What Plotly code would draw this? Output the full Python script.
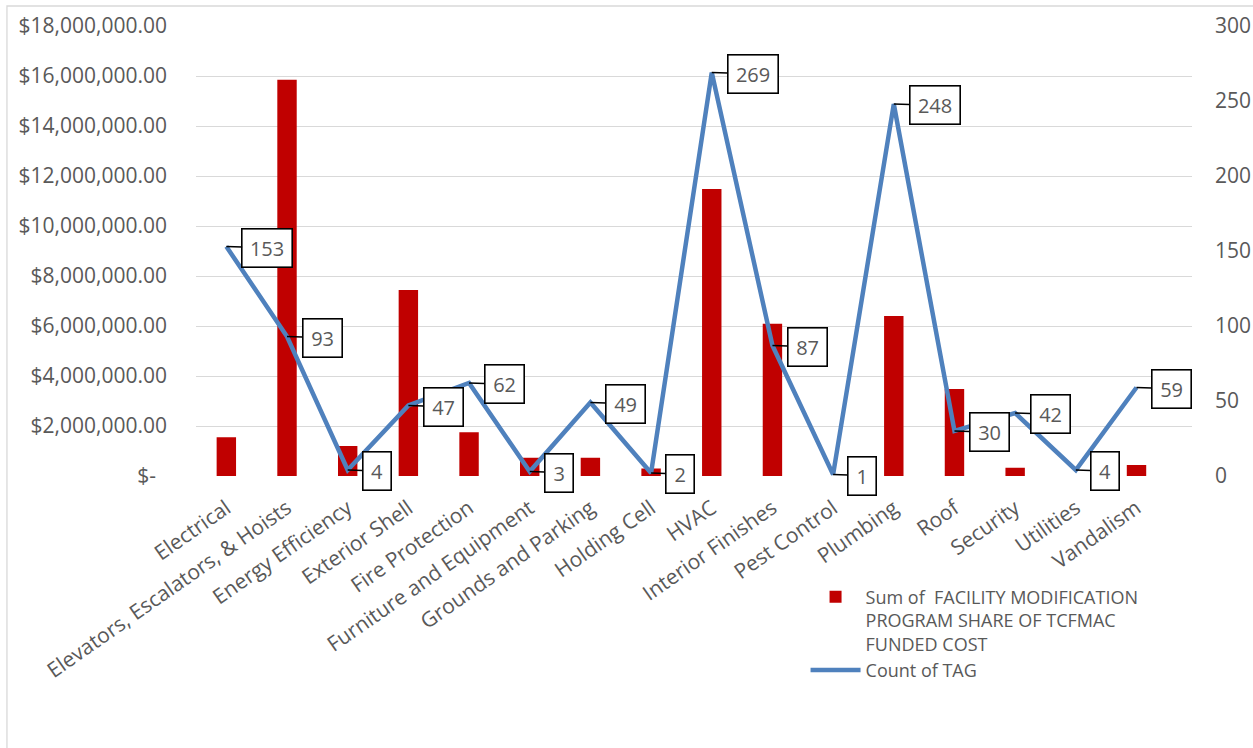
import plotly.graph_objects as go

categories = [
    "Electrical", "Elevators, Escalators, & Hoists", "Energy Efficiency",
    "Exterior Shell", "Fire Protection", "Furniture and Equipment",
    "Grounds and Parking", "Holding Cell", "HVAC", "Interior Finishes",
    "Pest Control", "Plumbing", "Roof", "Security", "Utilities", "Vandalism",
]
funded_cost = [
    1550000, 15850000, 1200000, 7440000, 1750000, 730000, 730000, 300000,
    11480000, 6090000, 0, 6400000, 3480000, 330000, 0, 440000,
]
tag_count = [153, 93, 4, 47, 62, 3, 49, 2, 269, 87, 1, 248, 30, 42, 4, 59]

cost_tickvals = [0, 2e6, 4e6, 6e6, 8e6, 10e6, 12e6, 14e6, 16e6, 18e6]
cost_ticktext = [
    "$-\u00a0\u00a0", "$2,000,000.00", "$4,000,000.00", "$6,000,000.00",
    "$8,000,000.00", "$10,000,000.00", "$12,000,000.00", "$14,000,000.00",
    "$16,000,000.00", "$18,000,000.00",
]
count_tickvals = [0, 50, 100, 150, 200, 250, 300]

bar_name = "Sum of \u00a0FACILITY MODIFICATION<br>PROGRAM SHARE OF TCFMAC<br>FUNDED COST"
line_name = "Count of TAG"

FONT = "Open Sans"
GREY = "#595959"

fig = go.Figure()
fig.add_trace(go.Bar(
    x=categories, y=funded_cost, name=bar_name,
    marker=dict(color="#C00000", line=dict(width=0)),
    width=0.32, yaxis="y",
))
fig.add_trace(go.Scatter(
    x=categories, y=tag_count, name=line_name, mode="lines",
    line=dict(color="#4F81BD", width=4.5), yaxis="y2",
))

annotations = []
for c, v in zip(categories, tag_count):
    n = len(str(v))
    annotations.append(dict(
        x=c, y=v, xref="x", yref="y2", text=str(v),
        showarrow=True, arrowhead=0, arrowwidth=1.5, arrowcolor="#000000",
        ax=23 + 6 * n, ay=1, standoff=0,
        font=dict(family=FONT, size=20, color=GREY),
        bgcolor="#FFFFFF", bordercolor="#000000", borderwidth=1.6,
        borderpad=5, width=11 * n + 6,
    ))

fig.update_layout(
    width=1253, height=748, autosize=False,
    margin=dict(l=196, r=61, t=26, b=272),
    paper_bgcolor="#FFFFFF", plot_bgcolor="#FFFFFF",
    font=dict(family=FONT, size=21, color=GREY),
    bargap=0.5,
    xaxis=dict(
        type="category", tickangle=-35, showgrid=False, zeroline=False,
        showline=False, ticks="", tickfont=dict(family=FONT, size=21, color=GREY),
        ticklabelstandoff=15, automargin=False,
    ),
    yaxis=dict(
        range=[0, 18e6], tickvals=cost_tickvals, ticktext=cost_ticktext,
        showgrid=True, gridcolor="#D9D9D9", gridwidth=1.3, zeroline=False,
        showline=False, ticks="", tickfont=dict(family=FONT, size=21, color=GREY),
        ticklabelstandoff=28, automargin=False,
    ),
    yaxis2=dict(
        range=[0, 300], tickvals=count_tickvals, overlaying="y", side="right",
        showgrid=False, zeroline=False, showline=False, ticks="",
        tickfont=dict(family=FONT, size=21, color=GREY), ticklabelstandoff=22,
        automargin=False,
    ),
    showlegend=True,
    legend=dict(
        x=0.612, y=-0.228, xanchor="left", yanchor="top",
        font=dict(family=FONT, size=18, color=GREY),
        bgcolor="rgba(0,0,0,0)", valign="top", tracegroupgap=4,
        itemwidth=50,
    ),
    annotations=annotations,
    shapes=[dict(
        type="rect", xref="paper", yref="paper",
        x0=-0.1898, x1=1.1, y0=-0.7, y1=1.0444,
        line=dict(color="#D9D9D9", width=1.3), fillcolor="rgba(0,0,0,0)",
        layer="below",
    )],
)

fig.write_html(
    "out.html",
    config={"displayModeBar": False},
    post_script="document.body.style.margin='0px';document.body.style.overflow='hidden';",
)
